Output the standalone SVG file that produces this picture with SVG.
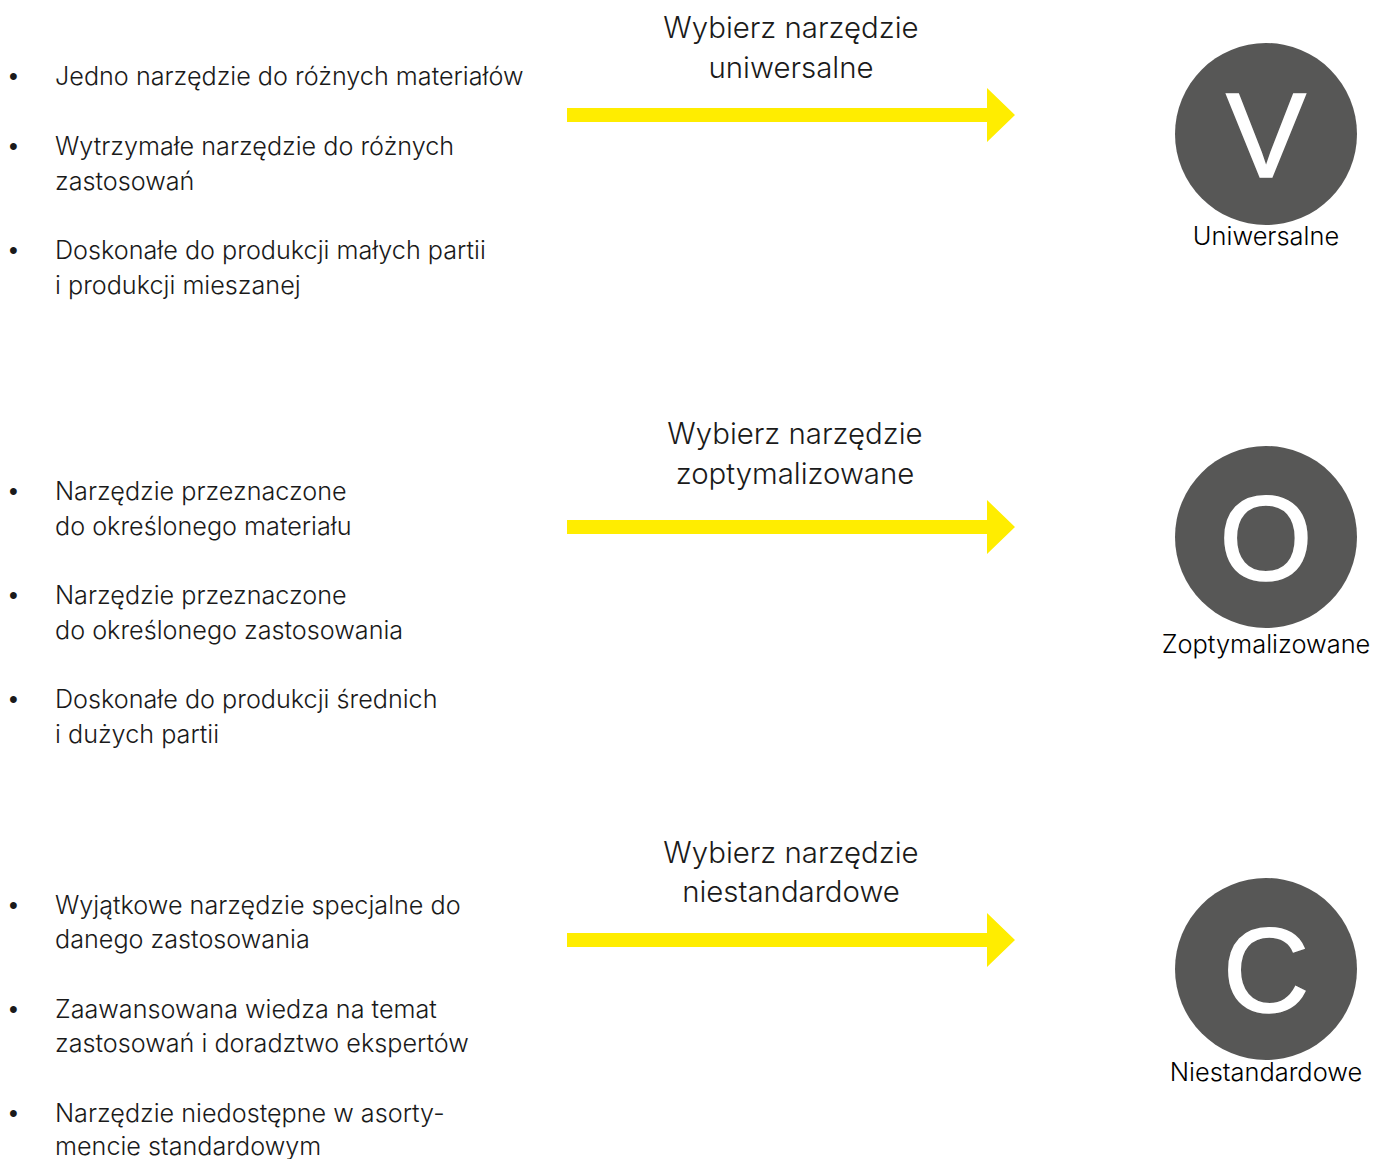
<svg xmlns="http://www.w3.org/2000/svg" width="1374" height="1159" viewBox="0 0 1374 1159">
<style>
.b{font-family:Inter,"Noto Sans","Liberation Sans",sans-serif;font-size:25.2px;font-weight:300;fill:#1a1a1a}
.d{font-family:"Liberation Sans",Arial,sans-serif;font-size:25px;fill:#1a1a1a}
.h{font-family:Inter,"Noto Sans","Liberation Sans",sans-serif;font-size:29.4px;font-weight:300;fill:#1a1a1a;text-anchor:middle}
.l{font-family:Inter,"Noto Sans","Liberation Sans",sans-serif;font-size:25.4px;font-weight:300;fill:#000;text-anchor:middle}
.c{fill:#575756}
.k{font-family:"Liberation Sans",Arial,sans-serif;font-size:120px;fill:#fff;stroke:#fff;stroke-width:1.5;text-anchor:middle}
.a{fill:#ffed00}
</style>
<rect width="1374" height="1159" fill="#fff"/>
<g id="connectors">
<polygon class="a" points="567,108 987,108 987,88 1015,115 987,142 987,122 567,122"/>
<polygon class="a" points="567,520 987,520 987,500 1015,527 987,554 987,534 567,534"/>
<polygon class="a" points="567,933 987,933 987,913 1015,940 987,967 987,947 567,947"/>
</g>
<g id="list1">
<text class="d" x="9" y="85">•</text><text class="b" x="55" y="85">Jedno narzędzie do różnych materiałów</text>
<text class="d" x="9" y="155">•</text><text class="b" x="55" y="155">Wytrzymałe narzędzie do różnych</text><text class="b" x="55" y="190">zastosowań</text>
<text class="d" x="9" y="259">•</text><text class="b" x="55" y="259">Doskonałe do produkcji małych partii</text><text class="b" x="55" y="294">i produkcji mieszanej</text>
</g>
<g id="list2">
<text class="d" x="9" y="500">•</text><text class="b" x="55" y="500">Narzędzie przeznaczone</text><text class="b" x="55" y="535">do określonego materiału</text>
<text class="d" x="9" y="604">•</text><text class="b" x="55" y="604">Narzędzie przeznaczone</text><text class="b" x="55" y="639">do określonego zastosowania</text>
<text class="d" x="9" y="708">•</text><text class="b" x="55" y="708">Doskonałe do produkcji średnich</text><text class="b" x="55" y="743">i dużych partii</text>
</g>
<g id="list3">
<text class="d" x="9" y="914">•</text><text class="b" x="55" y="914">Wyjątkowe narzędzie specjalne do</text><text class="b" x="55" y="948">danego zastosowania</text>
<text class="d" x="9" y="1018">•</text><text class="b" x="55" y="1018">Zaawansowana wiedza na temat</text><text class="b" x="55" y="1052">zastosowań i doradztwo ekspertów</text>
<text class="d" x="9" y="1122">•</text><text class="b" x="55" y="1122">Narzędzie niedostępne w asorty-</text><text class="b" x="55" y="1155">mencie standardowym</text>
</g>
<g id="label1"><text class="h" x="791" y="38">Wybierz narzędzie</text><text class="h" x="791" y="78">uniwersalne</text></g>
<g id="label2"><text class="h" x="795" y="444">Wybierz narzędzie</text><text class="h" x="795" y="484">zoptymalizowane</text></g>
<g id="label3"><text class="h" x="791" y="863">Wybierz narzędzie</text><text class="h" x="791" y="902">niestandardowe</text></g>
<g id="nodeV"><circle class="c" cx="1266" cy="134" r="91"/><text class="k" x="1266" y="177">V</text><text class="l" x="1266" y="245">Uniwersalne</text></g>
<g id="nodeO"><circle class="c" cx="1266" cy="537" r="91"/><text class="k" x="1266" y="580">O</text><text class="l" x="1266" y="653">Zoptymalizowane</text></g>
<g id="nodeC"><circle class="c" cx="1266" cy="969" r="91"/><text class="k" x="1266" y="1012">C</text><text class="l" x="1266" y="1081">Niestandardowe</text></g>
</svg>
